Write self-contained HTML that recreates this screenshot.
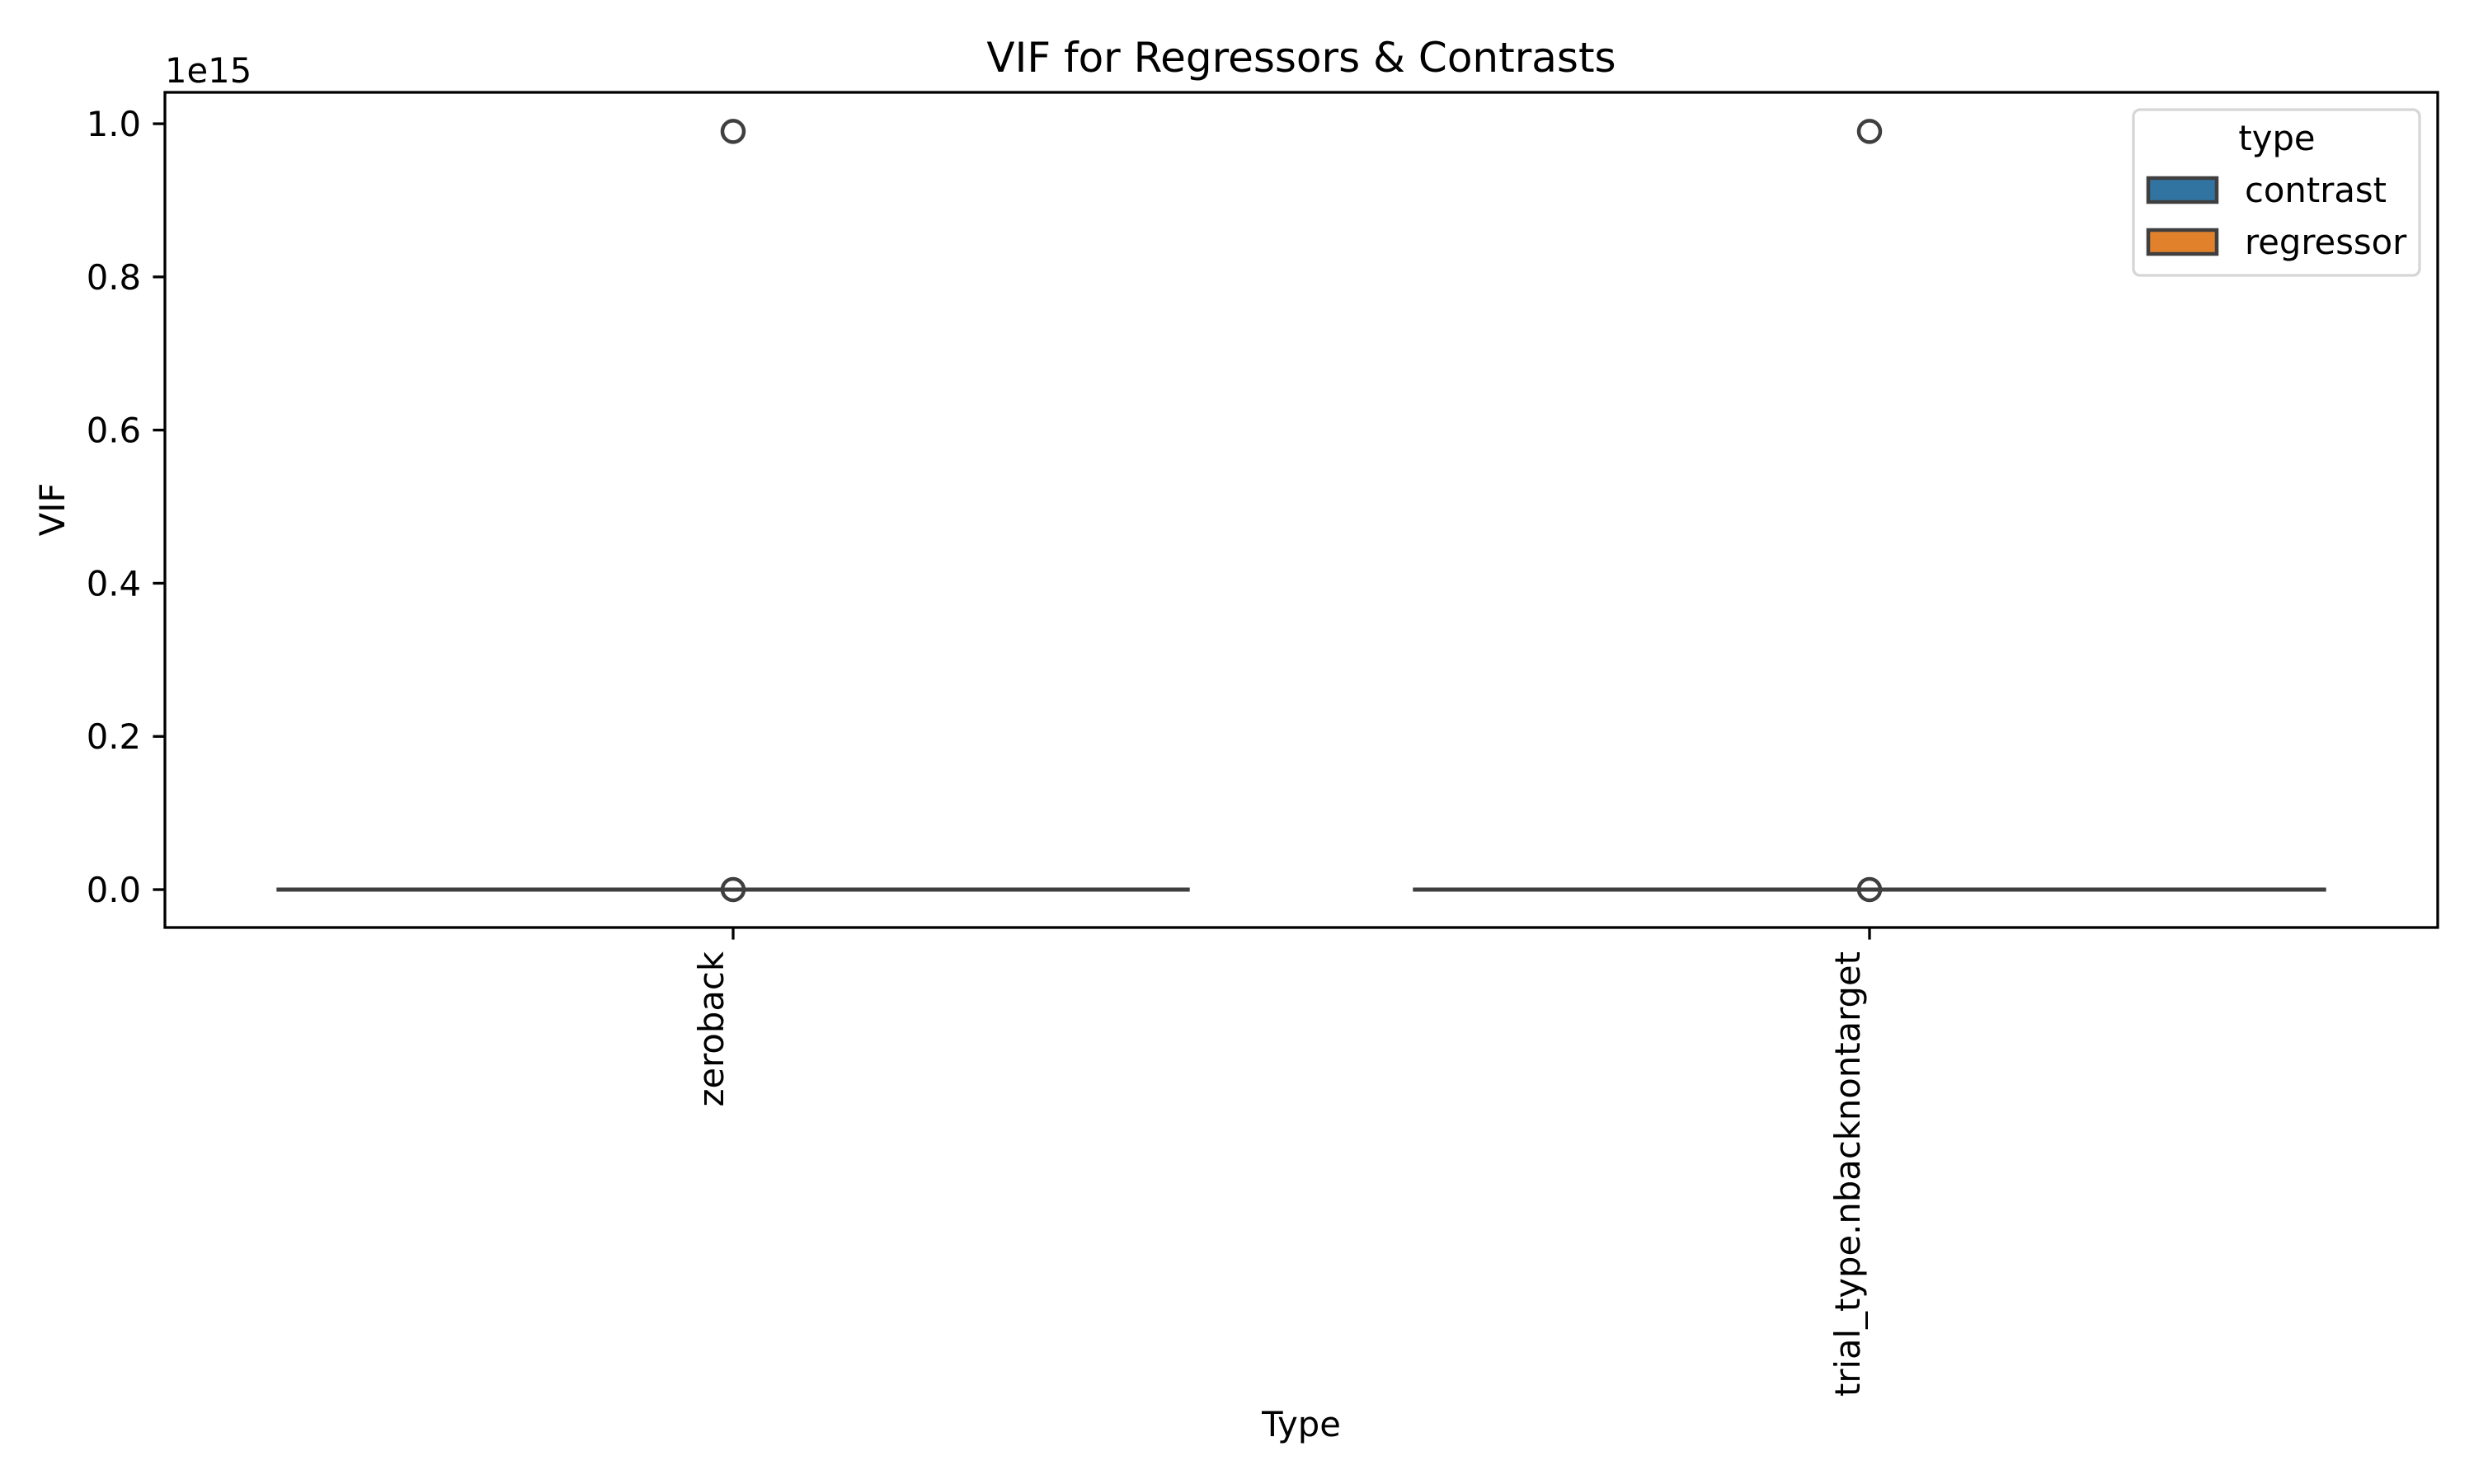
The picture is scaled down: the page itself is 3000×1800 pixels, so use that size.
<!DOCTYPE html>
<html><head><meta charset="utf-8"><style>
html,body{margin:0;padding:0;background:#fff;}
svg{display:block;}
text{font-family:"DejaVu Sans","Liberation Sans",sans-serif;fill:#000;}
</style></head><body>
<svg id="chart" width="3000" height="1800" viewBox="0 0 3000 1800" xmlns="http://www.w3.org/2000/svg">
<rect x="0" y="0" width="3000" height="1800" fill="#fff"/>
<text x="1578" y="87" font-size="50" text-anchor="middle">VIF for Regressors &amp; Contrasts</text>
<g id="plot"></g>
<text x="200" y="100" font-size="41.7">1e15</text>
<text transform="translate(78,618) rotate(-90)" font-size="41.7" text-anchor="middle">VIF</text>
<text x="1578" y="1742" font-size="41.7" text-anchor="middle">Type</text>
<g>
<rect x="2587" y="133" width="347" height="201" rx="8" fill="#fff" fill-opacity="0.8" stroke="#d6d6d6" stroke-width="3.3"/>
<text x="2761" y="182" font-size="41.7" text-anchor="middle">type</text>
<g>
<rect x="2605" y="216" width="83" height="29" fill="#3274a1" stroke="#3f3f3f" stroke-width="4.5"/>
<text x="2722" y="245" font-size="41.7">contrast</text>
</g>
<g>
<rect x="2605" y="279" width="83" height="29" fill="#e1812c" stroke="#3f3f3f" stroke-width="4.5"/>
<text x="2722" y="308" font-size="41.7">regressor</text>
</g>
</g>
</svg>
<script>
const categories = ["zeroback", "trial_type.nbacknontarget"];
const whiskerLow = [0, 0];
const q1Values = [0, 0];
const medianValues = [0, 0];
const q3Values = [0, 0];
const whiskerHigh = [0, 0];
const outliersCat0 = [0, 0.99e15];
const outliersCat1 = [0, 0.99e15];
const yTicks = [0, 0.2e15, 0.4e15, 0.6e15, 0.8e15, 1.0e15];
const yTickLabels = ["0.0", "0.2", "0.4", "0.6", "0.8", "1.0"];

const NS = "http://www.w3.org/2000/svg";
const L = 200, R = 2956, T = 112, B = 1125;
const yMin = -0.0495e15, yMax = 1.041e15;
function yScale(v){ return B - (v - yMin) / (yMax - yMin) * (B - T); }
const band = (R - L) / categories.length;
function xScale(i){ return L + band * (i + 0.5); }
const plot = document.getElementById('plot');
function mk(tag, attrs){ const e = document.createElementNS(NS, tag); for (const k in attrs) e.setAttribute(k, attrs[k]); plot.appendChild(e); return e; }
const outliers = [outliersCat0, outliersCat1];
const boxW = band * 0.8;
const stroke = "#3f3f3f";
categories.forEach((c, i) => {
  const cx = xScale(i), x0 = cx - boxW / 2;
  const yq1 = yScale(q1Values[i]), yq3 = yScale(q3Values[i]);
  const box = mk('rect', {x: x0, y: Math.min(yq1, yq3), width: boxW, height: Math.max(Math.abs(yq1 - yq3), 0.01), fill: "#3274a1", stroke: stroke, 'stroke-width': 5});
  
  
  const wl = mk('line', {x1: cx, x2: cx, y1: yq1, y2: yScale(whiskerLow[i]), stroke: stroke, 'stroke-width': 5});
  
  
  const wh = mk('line', {x1: cx, x2: cx, y1: yq3, y2: yScale(whiskerHigh[i]), stroke: stroke, 'stroke-width': 5});
  
  
  const md = mk('line', {x1: x0, x2: x0 + boxW, y1: yScale(medianValues[i]), y2: yScale(medianValues[i]), stroke: stroke, 'stroke-width': 5});
  
  
  outliers[i].forEach((v, j) => {
    const o = mk('circle', {cx: cx, cy: yScale(v), r: 13, fill: "none", stroke: stroke, 'stroke-width': 4.5});
    
    
  });
  const tk = mk('line', {x1: cx, x2: cx, y1: B, y2: B + 14.6, stroke: "#000", 'stroke-width': 3.3});
  
  
  const tl = mk('text', {transform: 'translate(' + (cx - 12) + ',' + (B + 29) + ') rotate(-90)', 'font-size': 41.7, 'text-anchor': 'end'});
  tl.textContent = c;
  
  
});
yTicks.forEach((v, i) => {
  const y = yScale(v);
  const tk = mk('line', {x1: L - 14.6, x2: L, y1: y, y2: y, stroke: "#000", 'stroke-width': 3.3});
  
  
  const tl = mk('text', {x: L - 29, y: y + 15, 'font-size': 41.7, 'text-anchor': 'end'});
  tl.textContent = yTickLabels[i];
  
  
});
const frame = mk('rect', {x: L, y: T, width: R - L, height: B - T, fill: "none", stroke: "#000", 'stroke-width': 3.3});


</script>
</body></html>
